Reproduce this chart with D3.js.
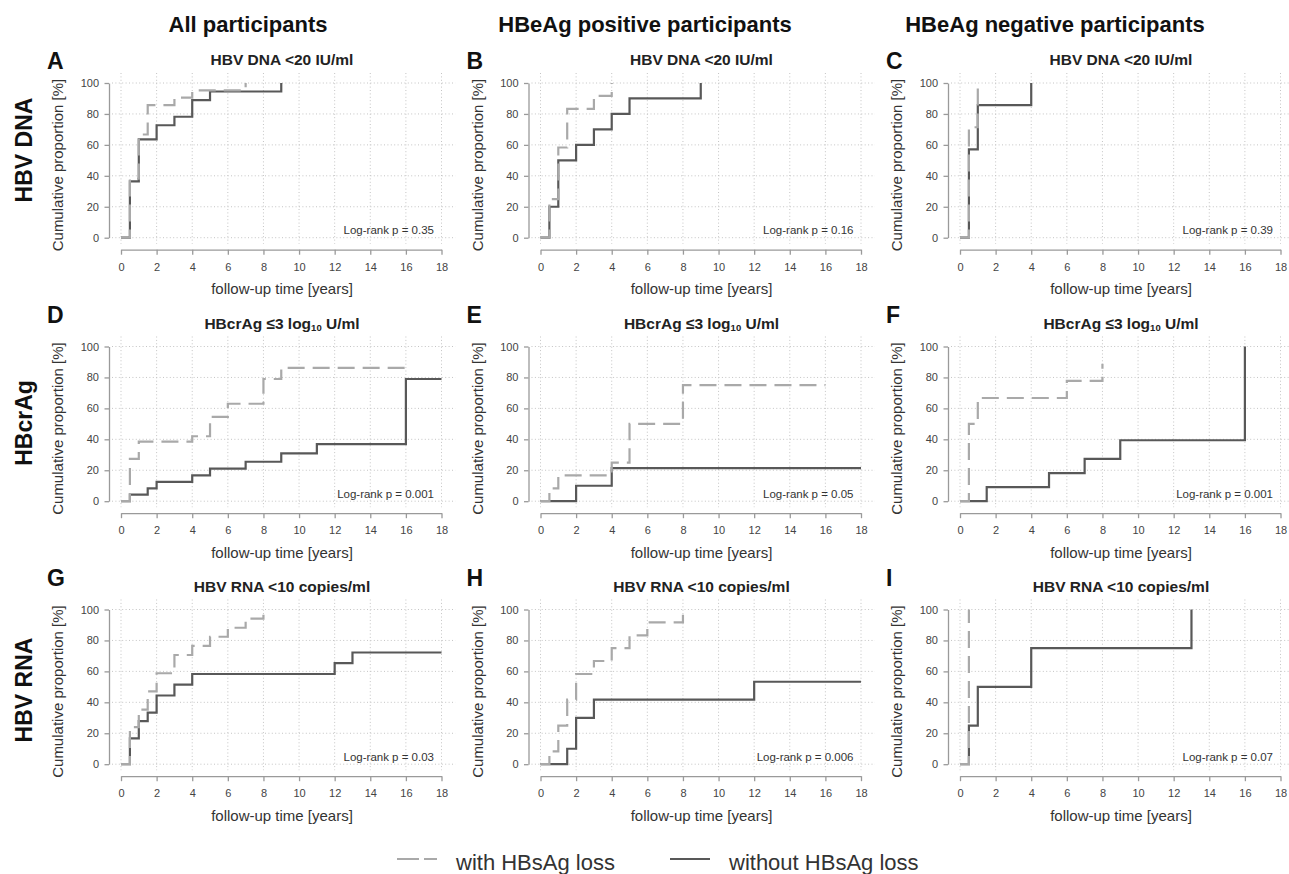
<!DOCTYPE html>
<html>
<head>
<meta charset="utf-8">
<script src="https://cdn.jsdelivr.net/npm/d3@7"></script>
<style>
  body { margin: 0; background: #fff; }
</style>
</head>
<body>
<div id="chart"></div>
<script>
// --- data ---
const columnTitles = ['All participants', 'HBeAg positive participants', 'HBeAg negative participants'];
const rowTitles = ['HBV DNA', 'HBcrAg', 'HBV RNA'];
const panelLetters = ['A', 'B', 'C', 'D', 'E', 'F', 'G', 'H', 'I'];
const rowEndpoints = ['HBV DNA <20 IU/ml', 'HBcrAg \u22643 log10 U/ml', 'HBV RNA <10 copies/ml'];
const pValues = ['0.35', '0.16', '0.39', '0.001', '0.05', '0.001', '0.03', '0.006', '0.07'];
const xTicks = [0, 2, 4, 6, 8, 10, 12, 14, 16, 18];
const yTicks = [0, 20, 40, 60, 80, 100];

// with HBsAg loss (dashed): event times, cumulative %, last follow-up
const withTimes = [
  [0.5, 1, 1.5, 3, 4, 7],
  [0.5, 1, 1.5, 3, 4],
  [0.5, 1],
  [0.5, 1, 4, 5, 6, 8, 9],
  [0.5, 1, 4, 5, 8],
  [0.5, 1, 6, 8],
  [0.5, 1, 1.5, 2, 3, 4, 5, 6, 7, 8],
  [0.5, 1, 1.5, 2, 3, 4, 5, 6, 8],
  [0.5]
];
const withValues = [
  [38.1, 66.7, 85.7, 90.5, 95.2, 100],
  [25, 58.3, 83.3, 91.7, 100],
  [71.4, 100],
  [27.3, 38.5, 42, 54.5, 63, 79, 86.2],
  [8.3, 16.7, 25, 50, 75],
  [50, 66.7, 77.8, 88.9],
  [24, 35.3, 47.1, 58.8, 70.6, 76.5, 82.4, 88.2, 94.1, 100],
  [8.3, 25, 41.7, 58.3, 66.7, 75, 83.3, 91.7, 100],
  [100]
];
const withEnd = [7, 4, 1, 16, 16, 8, 8, 8, 0.5];

// without HBsAg loss (solid)
const withoutTimes = [
  [0.5, 1, 2, 3, 4, 5, 9],
  [0.5, 1, 2, 3, 4, 5, 9],
  [0.5, 1, 4],
  [0.5, 1.5, 2, 4, 5, 7, 9, 11, 16],
  [2, 4],
  [1.5, 5, 7, 9, 16],
  [0.5, 1, 1.5, 2, 3, 4, 12, 13],
  [1.5, 2, 3, 12],
  [0.5, 1, 4, 13]
];
const withoutValues = [
  [36.4, 63.6, 72.7, 78.2, 88.9, 94.5, 100],
  [20, 50, 60, 70, 80, 90, 100],
  [57.1, 85.7, 100],
  [4.2, 8.3, 12.5, 16.7, 21, 25.5, 30.9, 36.9, 79],
  [10, 21.4],
  [9.1, 18.2, 27.3, 39.4, 100],
  [16.7, 27.8, 33.3, 44.4, 51.4, 58.3, 65.3, 72.2],
  [10, 30, 41.7, 53.3],
  [25, 50, 75, 100]
];
const withoutEnd = [9, 9, 4, 18, 18, 16, 18, 18, 13];

const legendLabels = ['with HBsAg loss', 'without HBsAg loss'];

// --- layout ---
const width = 1289;
const height = 874;
const colX = [121, 540.5, 960];
const rowY = [83, 346.5, 609.5];
const plotW = 320.5;
const plotH = 154.7;
const headerX = [248, 645, 1055];
const rowLabelY = [150, 423, 690];
const letterOffset = [14, 24, 24];
const dashColor = '#a9a9a9';
const solidColor = '#585858';

const svg = d3.select('#chart')
  .append('svg')
  .attr('width', width)
  .attr('height', height)
  .style('font-family', '"Liberation Sans", Arial, Helvetica, sans-serif');

svg.append('rect').attr('width', width).attr('height', height).attr('fill', '#fff');

// column headers
svg.selectAll('.colTitle')
  .data(columnTitles)
  .enter()
  .append('text')
  .attr('x', (d, i) => headerX[i])
  .attr('y', 32)
  .attr('text-anchor', 'middle')
  .attr('font-size', 22)
  .attr('font-weight', 'bold')
  .attr('fill', '#111')
  .text((d) => d);

// row headers
rowTitles.forEach((t, r) => {
  svg.append('text')
    .attr('transform', `translate(32,${rowLabelY[r]}) rotate(-90)`)
    .attr('text-anchor', 'middle')
    .attr('font-size', 23)
    .attr('font-weight', 'bold')
    .attr('fill', '#111')
    .text(t);
});

function series(times, values, end) {
  const pts = [[0, 0]];
  times.forEach((t, k) => pts.push([t, values[k]]));
  pts.push([end, values[values.length - 1]]);
  return pts;
}

panelLetters.forEach((letter, i) => {
  const col = i % 3;
  const row = Math.floor(i / 3);
  const ox = colX[col];
  const oy = rowY[row];

  const x = d3.scaleLinear().domain([0, 18]).range([ox, ox + plotW]);
  const y = d3.scaleLinear().domain([0, 100]).range([oy + plotH, oy]);

  const g = svg.append('g');

  // grid
  g.selectAll('.vgrid')
    .data(xTicks)
    .enter()
    .append('line')
    .attr('x1', (d) => x(d))
    .attr('x2', (d) => x(d))
    .attr('y1', oy - 10)
    .attr('y2', y(0) + 6)
    .attr('stroke', '#c4c4c4')
    .attr('stroke-width', 1)
    .attr('stroke-dasharray', '1,2.4');

  g.selectAll('.hgrid')
    .data(yTicks)
    .enter()
    .append('line')
    .attr('x1', ox - 9)
    .attr('x2', ox + plotW + 14)
    .attr('y1', (d) => y(d))
    .attr('y2', (d) => y(d))
    .attr('stroke', '#c4c4c4')
    .attr('stroke-width', 1)
    .attr('stroke-dasharray', '1,2.4');

  // axes
  const yAxis = g.append('g')
    .attr('transform', `translate(${ox - 12},0)`)
    .call(d3.axisLeft(y).tickValues(yTicks).tickSize(4.5).tickSizeOuter(0).tickPadding(5.5));
  const xAxis = g.append('g')
    .attr('transform', `translate(0,${y(0) + 12})`)
    .call(d3.axisBottom(x).tickValues(xTicks).tickSize(5).tickSizeOuter(0).tickPadding(8.5));

  [xAxis, yAxis].forEach((ax) => {
    ax.select('.domain').attr('stroke', '#9a9a9a').attr('stroke-width', 1.3);
    ax.selectAll('.tick line').attr('stroke', '#9a9a9a').attr('stroke-width', 1.3);
    ax.selectAll('.tick text')
      .attr('font-size', 11)
      .attr('fill', '#444')
      .attr('font-family', '"Liberation Sans", Arial, sans-serif');
  });

  // axis titles
  g.append('text')
    .attr('transform', `translate(${ox - 58},${oy + 82}) rotate(-90)`)
    .attr('text-anchor', 'middle')
    .attr('font-size', 15)
    .attr('fill', '#333')
    .text('Cumulative proportion [%]');

  g.append('text')
    .attr('x', ox + 161)
    .attr('y', oy + 211)
    .attr('text-anchor', 'middle')
    .attr('font-size', 15)
    .attr('fill', '#333')
    .text('follow-up time [years]');

  // panel title, with subscript for log10
  const title = g.append('text')
    .attr('x', ox + 161)
    .attr('y', oy - 18)
    .attr('text-anchor', 'middle')
    .attr('font-size', 15.5)
    .attr('font-weight', 'bold')
    .attr('fill', '#222');
  const parts = rowEndpoints[row].split('log10');
  if (parts.length === 2) {
    title.append('tspan').text(parts[0] + 'log');
    title.append('tspan').attr('font-size', 9.5).attr('dy', 2).text('10');
    title.append('tspan').attr('dy', -2).text(parts[1]);
  } else {
    title.text(rowEndpoints[row]);
  }

  // panel letter
  g.append('text')
    .attr('x', ox - 74)
    .attr('y', oy - letterOffset[row])
    .attr('font-size', 23)
    .attr('font-weight', 'bold')
    .attr('fill', '#111')
    .text(letter);

  // log-rank
  g.append('text')
    .attr('x', ox + 313)
    .attr('y', y(0) - 3.5)
    .attr('text-anchor', 'end')
    .attr('font-size', 11.5)
    .attr('fill', '#333')
    .text(`Log-rank p = ${pValues[i]}`);

  const step = d3.line()
    .x((d) => x(d[0]))
    .y((d) => y(d[1]))
    .curve(d3.curveStepAfter);

  g.append('path')
    .datum(series(withoutTimes[i], withoutValues[i], withoutEnd[i]))
    .attr('fill', 'none')
    .attr('stroke', solidColor)
    .attr('stroke-width', 2.2)
    .attr('d', step);

  g.append('path')
    .datum(series(withTimes[i], withValues[i], withEnd[i]))
    .attr('fill', 'none')
    .attr('stroke', dashColor)
    .attr('stroke-width', 2.2)
    .attr('stroke-dasharray', '17,8')
    .attr('d', step);
});

// legend
const legend = svg.append('g');
const legendX = [397, 670];
legendLabels.forEach((lab, k) => {
  legend.append('line')
    .attr('x1', legendX[k])
    .attr('x2', legendX[k] + 40)
    .attr('y1', 859)
    .attr('y2', 859)
    .attr('stroke', k === 0 ? dashColor : solidColor)
    .attr('stroke-width', 2)
    .attr('stroke-dasharray', k === 0 ? '22,5' : null);
  legend.append('text')
    .attr('x', legendX[k] + 59)
    .attr('y', 870)
    .attr('font-size', 22)
    .attr('fill', '#333')
    .text(lab);
});
</script>
</body>
</html>
